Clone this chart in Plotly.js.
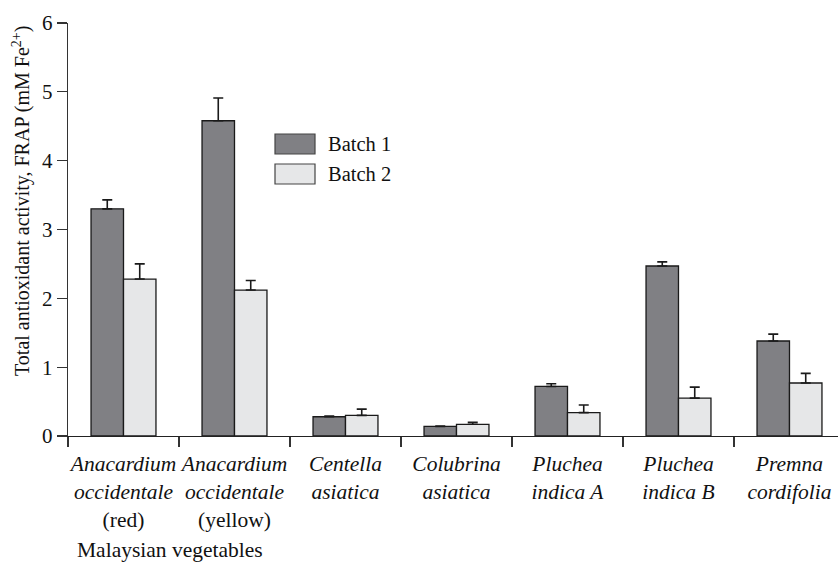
<!DOCTYPE html>
<html>
<head>
<meta charset="utf-8">
<script src="https://cdn.plot.ly/plotly-3.0.1.min.js"></script>
<style>html,body{margin:0;padding:0;background:#fff;}#chart{width:838px;height:564px;}</style>
</head>
<body>
<div id="chart"></div>
<script>
var categories = [
  "<i>Anacardium</i><br><i>occidentale</i><br>(red)",
  "<i>Anacardium</i><br><i>occidentale</i><br>(yellow)",
  "<i>Centella</i><br><i>asiatica</i>",
  "<i>Colubrina</i><br><i>asiatica</i>",
  "<i>Pluchea</i><br><i>indica A</i>",
  "<i>Pluchea</i><br><i>indica B</i>",
  "<i>Premna</i><br><i>cordifolia</i>"
];
var seriesNames = ["Batch 1", "Batch 2"];
var batch1 = [3.30, 4.58, 0.28, 0.14, 0.72, 2.47, 1.38];
var batch1Err = [0.13, 0.33, 0.01, 0.005, 0.04, 0.06, 0.10];
var batch2 = [2.28, 2.12, 0.30, 0.17, 0.34, 0.55, 0.77];
var batch2Err = [0.22, 0.14, 0.09, 0.03, 0.11, 0.16, 0.14];
var yTicks = [0, 1, 2, 3, 4, 5, 6];
var yTitle = "Total antioxidant activity, FRAP (mM Fe<sup>2+</sup>)";
var xTitle = "Malaysian vegetables";

var fillColors = ["#808084", "#e6e7e8"];
var serif = "'Liberation Serif', 'Times New Roman', serif";

function barTrace(name, vals, errs, color) {
  return {
    type: "bar", name: name, x: categories, y: vals,
    marker: {color: color, line: {color: "#1a1a1a", width: 1.3}},
    error_y: {type: "data", array: errs, arrayminus: errs.map(function(){return 0;}),
              symmetric: false, visible: true, color: "#1a1a1a", thickness: 1.6, width: 5},
    showlegend: false, hoverinfo: "skip"
  };
}

var data = [
  barTrace(seriesNames[0], batch1, batch1Err, fillColors[0]),
  barTrace(seriesNames[1], batch2, batch2Err, fillColors[1])
];

var shapes = [];
var annotations = [];
var legX0 = 275, legX1 = 315, legY = [134, 164], legH = 20;
for (var i = 0; i < seriesNames.length; i++) {
  shapes.push({type: "rect", xref: "paper", yref: "paper",
    x0: (legX0 - 68) / 770, x1: (legX1 - 68) / 770,
    y0: (436 - legY[i] - legH) / 413, y1: (436 - legY[i]) / 413,
    fillcolor: fillColors[i], line: {color: "#444", width: 1.2}});
  annotations.push({xref: "paper", yref: "paper", x: (326 - 68) / 770,
    y: (436 - legY[i] - legH / 2) / 413, xanchor: "left", yanchor: "middle",
    text: seriesNames[i], showarrow: false, font: {family: serif, size: 20.5, color: "#111"}});
}
annotations.push({xref: "paper", yref: "paper", x: -68 / 770, y: (436 - 201) / 413,
  xshift: 22, text: yTitle, textangle: -90, showarrow: false, xanchor: "center", yanchor: "middle",
  font: {family: serif, size: 20, color: "#111"}});
annotations.push({xref: "paper", yref: "paper", x: (75 - 68) / 770, y: -(550 - 436) / 413,
  text: xTitle, showarrow: false, xanchor: "left", yanchor: "middle",
  font: {family: serif, size: 21.5, color: "#111"}});

var layout = {
  width: 838, height: 564,
  margin: {l: 68, r: 0, t: 23, b: 128, pad: 0},
  paper_bgcolor: "#fff", plot_bgcolor: "#fff",
  barmode: "group", bargap: 0.415, bargroupgap: 0,
  font: {family: serif, color: "#111"},
  xaxis: {type: "category", range: [-0.5, 6.437], tickson: "boundaries", tickangle: 0,
    ticks: "outside", ticklen: 10, tickwidth: 1.3, tickcolor: "#333", ticklabelstandoff: 8,
    showline: true, linecolor: "#222", linewidth: 1.3, showgrid: false, zeroline: false,
    tickfont: {family: serif, size: 21.5, color: "#111"}, fixedrange: true},
  yaxis: {range: [0, 6], tickvals: yTicks, ticktext: yTicks.map(String),
    ticks: "outside", ticklen: 10, tickwidth: 1.3, tickcolor: "#333",
    showline: true, linecolor: "#333", linewidth: 1.3, showgrid: false, zeroline: false,
    tickfont: {family: serif, size: 21, color: "#111"}, fixedrange: true},
  shapes: shapes,
  annotations: annotations,
  showlegend: false
};

Plotly.newPlot("chart", data, layout, {displayModeBar: false, staticPlot: true});
</script>
</body>
</html>
